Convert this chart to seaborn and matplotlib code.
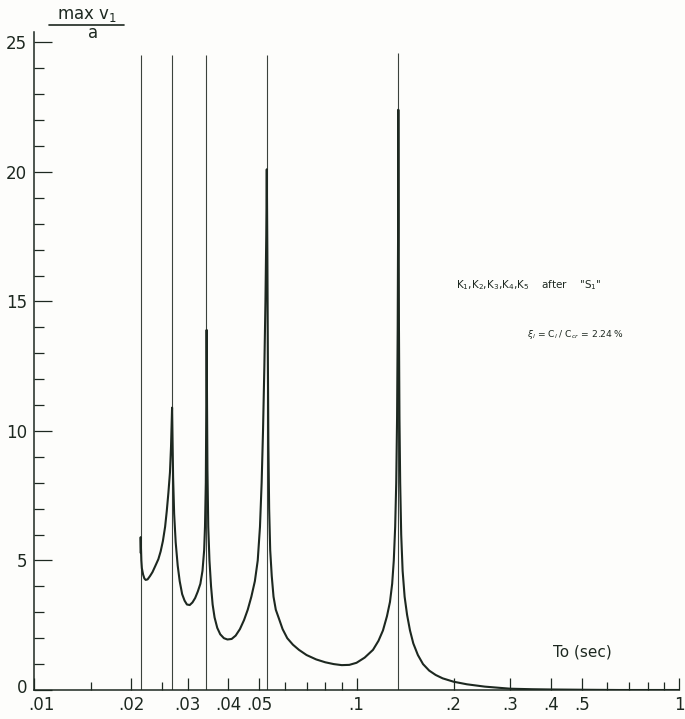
import numpy as np
import pandas as pd
import seaborn as sns
import matplotlib
matplotlib.use("Agg")
import matplotlib.pyplot as plt
import matplotlib.transforms as mtransforms
from matplotlib.lines import Line2D
from matplotlib.ticker import FixedLocator, FixedFormatter, NullFormatter

# ---- data ----
T_curve = [0.02140, 0.02142, 0.02146, 0.02152, 0.0216, 0.0218, 0.0220, 0.0222, 0.0225, 0.0229,
           0.0233, 0.0238, 0.0243, 0.0247, 0.0251, 0.0255, 0.0258, 0.0261, 0.0264, 0.0266,
           0.0268, 0.0269, 0.0270, 0.0272, 0.0275, 0.0279, 0.0283, 0.0288, 0.0293, 0.0298,
           0.0304, 0.0310, 0.0316, 0.0322, 0.0328, 0.0333, 0.0337, 0.0339, 0.0341, 0.0342,
           0.0343, 0.0344, 0.0345, 0.0347, 0.0350, 0.0354, 0.0358, 0.0363, 0.0370, 0.0378,
           0.0388, 0.0398, 0.0410, 0.0422, 0.0435, 0.0448, 0.0460, 0.0472, 0.0484, 0.0494,
           0.0502, 0.0508, 0.0513, 0.0518, 0.0522, 0.0525, 0.0527, 0.0529, 0.0531, 0.0533,
           0.0536, 0.0540, 0.0546, 0.0553, 0.0562, 0.0575, 0.0590, 0.0610, 0.0635, 0.0663,
           0.0700, 0.0750, 0.0800, 0.0850, 0.0900, 0.0950, 0.1000, 0.1060, 0.1125, 0.1170,
           0.1208, 0.1243, 0.1270, 0.1290, 0.1305, 0.1318, 0.1328, 0.1336, 0.1342, 0.1346,
           0.1348, 0.1351, 0.1354, 0.1359, 0.1366, 0.1376, 0.1390, 0.1410, 0.1435, 0.1465,
           0.1500, 0.1550, 0.1608, 0.1680, 0.1760, 0.1850, 0.2000, 0.2200, 0.2500, 0.2800,
           0.3000, 0.3500, 0.4000, 0.5000, 0.6500, 1.0000]
V_curve = [5.3, 5.9, 5.5, 5.0, 4.7, 4.45, 4.3, 4.25, 4.27, 4.4,
           4.55, 4.8, 5.05, 5.35, 5.75, 6.3, 6.9, 7.6, 8.4, 9.4,
           10.9, 9.5, 8.2, 6.8, 5.7, 4.8, 4.2, 3.7, 3.45, 3.3,
           3.28, 3.38, 3.55, 3.8, 4.1, 4.6, 5.4, 6.3, 8.0, 10.5,
           13.9, 11.0, 8.5, 6.3, 5.0, 4.0, 3.3, 2.8, 2.4, 2.15,
           2.0, 1.95, 1.97, 2.1, 2.35, 2.7, 3.1, 3.6, 4.2, 5.0,
           6.3, 8.0, 10.0, 12.5, 15.0, 17.5, 20.1, 17.0, 13.0, 9.5,
           7.0, 5.4, 4.4, 3.6, 3.1, 2.75, 2.35, 2.0, 1.75, 1.55,
           1.35, 1.18, 1.07, 1.0, 0.96, 0.97, 1.05, 1.25, 1.55, 1.9,
           2.3, 2.85, 3.4, 4.1, 5.0, 6.3, 8.0, 10.5, 14.0, 18.0,
           22.4, 18.0, 14.0, 10.5, 8.0, 6.0, 4.6, 3.6, 2.9, 2.3,
           1.8, 1.35, 1.0, 0.75, 0.58, 0.45, 0.32, 0.22, 0.13, 0.08,
           0.05, 0.03, 0.02, 0.01, 0.0, 0.0]
T_modes = [0.0214, 0.0268, 0.0341, 0.0528, 0.1347]
mode_top = [24.5, 24.5, 24.5, 24.5, 24.6]

x_major = [0.01, 0.02, 0.03, 0.04, 0.05, 0.1, 0.2, 0.3, 0.4, 0.5, 1.0]
x_major_labels = [".01", ".02", ".03", ".04", ".05", ".1", ".2", ".3", ".4", ".5", "1"]
x_minor = [0.015, 0.025, 0.06, 0.07, 0.08, 0.09, 0.6, 0.7, 0.8, 0.9]
y_major = [0, 5, 10, 15, 20, 25]
y_minor = [v for v in range(0, 26) if v % 5 != 0]

df = pd.DataFrame({"T": T_curve, "V": V_curve})

sns.set_theme(style="ticks")
plt.rcParams['font.family'] = ['DejaVu Sans']

ink = "#1d2820"
paper = "#fdfdfb"

fig = plt.figure(figsize=(6.85, 7.19), dpi=100, facecolor=paper)
ax = fig.add_axes([34/685, 29/719, (679-34)/685, (690-32)/719])
ax.set_facecolor(paper)

ax.vlines(T_modes, 0, mode_top, colors="#3b423c", linewidth=0.8)
line_kws = dict(solid_joinstyle="round", solid_capstyle="round")
sns.lineplot(data=df, x="T", y="V", estimator=None, sort=False, ax=ax,
             color=ink, linewidth=1.5, **line_kws)

ax.set_xscale("log")
ax.set_xlim(0.01, 1.0)
ax.set_ylim(0, 25.4)

ax.xaxis.set_major_locator(FixedLocator(x_major))
ax.xaxis.set_major_formatter(FixedFormatter(x_major_labels))
ax.xaxis.set_minor_locator(FixedLocator(x_minor))
ax.xaxis.set_minor_formatter(NullFormatter())
ax.yaxis.set_major_locator(FixedLocator(y_major))
ax.yaxis.set_minor_locator(FixedLocator(y_minor))

ax.tick_params(axis="x", which="major", direction="in", length=9, width=0.9,
               colors=ink, labelsize=12, pad=4)
ax.tick_params(axis="x", which="minor", direction="in", length=6, width=0.9, colors=ink)
ax.tick_params(axis="y", which="major", direction="in", length=13, width=0.9,
               colors=ink, labelsize=12, pad=5)
ax.tick_params(axis="y", which="minor", direction="in", length=7, width=0.9, colors=ink)

# nudge the first x label right and the first y label up, as in the reference
fig.canvas.draw()
xl = ax.get_xticklabels()
xl[0].set_transform(xl[0].get_transform() +
                    mtransforms.ScaledTranslation(7/100, 0, fig.dpi_scale_trans))
yl = ax.get_yticklabels()
yl[0].set_transform(yl[0].get_transform() +
                    mtransforms.ScaledTranslation(0, 4/100, fig.dpi_scale_trans))

for s in ["top", "right"]:
    ax.spines[s].set_visible(False)
for s in ["left", "bottom"]:
    ax.spines[s].set_color(ink)
    ax.spines[s].set_linewidth(1.1)

ax.set_xlabel("")
ax.set_ylabel("")

# x-axis title inside plot
ax.text(0.805, 0.058, "To (sec)", transform=ax.transAxes, fontsize=11,
        color=ink, ha="left", va="center")

# annotations
ax.text(0.655, 0.615, "K$_1$,K$_2$,K$_3$,K$_4$,K$_5$    after    \"S$_1$\"",
        transform=ax.transAxes, fontsize=7.5, color=ink, ha="left", va="center")
ax.text(0.765, 0.54, r"$\xi_l$ = C$_l$ / C$_{cr}$ = 2.24 %",
        transform=ax.transAxes, fontsize=6.6, color=ink, ha="left", va="center")

# y-axis title as a fraction
fig.text(87/685, 1 - 15/719, "max v$_1$", fontsize=12, color=ink,
         ha="center", va="center")
fig.add_artist(Line2D([49/685, 124/685], [1 - 25/719, 1 - 25/719],
                      color=ink, linewidth=1.2))
fig.text(93/685, 1 - 33/719, "a", fontsize=12, color=ink, ha="center", va="center")

fig.savefig("out.png", dpi=100, facecolor=paper)
